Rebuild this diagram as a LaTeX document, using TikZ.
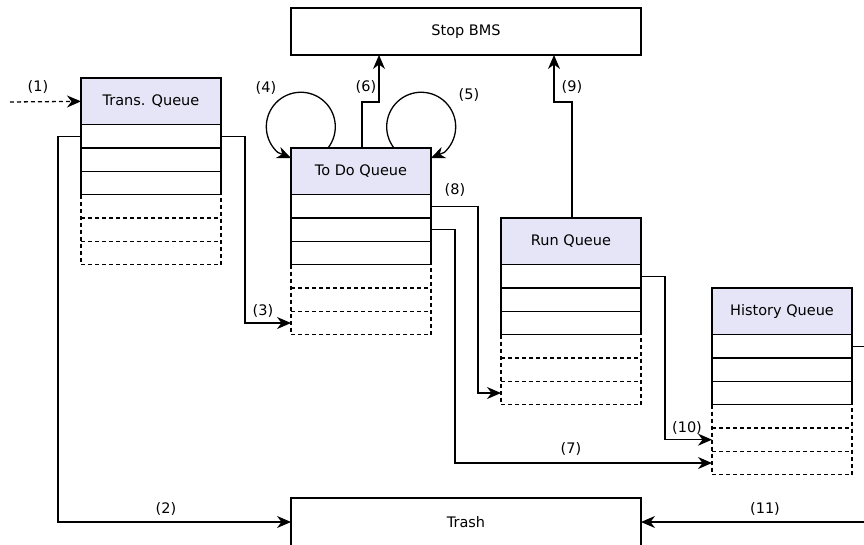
\documentclass[tikz,border=0pt]{standalone}
\usepackage{fontspec}
\setmainfont{DejaVu Sans}
\usetikzlibrary{arrows.meta}
\definecolor{headfill}{RGB}{229,229,247}
\tikzset{
  thin line/.style={line width=1.3pt},
  conn/.style={thin line, -{Stealth[length=14pt,width=12pt,inset=4.5pt]}},
  lab/.style={font=\fontsize{14.5}{16}\selectfont, inner sep=0pt},
  head/.style={draw, thin line, fill=headfill, minimum width=140pt, minimum height=46.7pt,
    inner sep=0pt, outer sep=0pt, anchor=north west, font=\fontsize{14.5}{16}\selectfont},
  slot/.style={draw, thin line, minimum width=140pt, minimum height=23.33pt,
    inner sep=0pt, outer sep=0pt, anchor=north west},
  freeslot/.style={minimum width=140pt, minimum height=23.33pt,
    inner sep=0pt, outer sep=0pt, anchor=north west},
  freeline/.style={thin line, dash pattern=on 4pt off 3pt},
  bigbox/.style={draw, thin line, minimum width=350pt, inner sep=0pt, outer sep=0pt,
    anchor=north west, font=\fontsize{14.5}{16}\selectfont},
}
% a queue: coloured header, three used slots, three free (dashed) slots
\newcommand\drawqueue[4]{%
  \node[head] (#1) at (#2,#3) {#4};
  \node[slot] (#1-1) at (#1.south west) {};
  \node[slot] (#1-2) at (#1-1.south west) {};
  \node[slot] (#1-3) at (#1-2.south west) {};
  \node[freeslot] (#1-4) at (#1-3.south west) {};
  \node[freeslot] (#1-5) at (#1-4.south west) {};
  \node[freeslot] (#1-6) at (#1-5.south west) {};
  \draw[freeline] (#1-3.south west) -- (#1-6.south west) -- (#1-6.south east) -- (#1-3.south east);
  \draw[freeline] (#1-4.south west) -- (#1-4.south east);
  \draw[freeline] (#1-5.south west) -- (#1-5.south east);
}
\begin{document}
\begin{tikzpicture}[x=1pt,y=-1pt]
\useasboundingbox (0,0) rectangle (864,545);

\node[bigbox, minimum height=47pt] (stop) at (291,8) {Stop BMS};
\node[bigbox, minimum height=48pt] (trash) at (291,498) {Trash};

\drawqueue{trans}{81}{78}{Trans. Queue}
\drawqueue{todo}{291}{148}{To Do Queue}
\drawqueue{run}{501}{218}{Run Queue}
\drawqueue{hist}{712}{288}{History Queue}

% (1) incoming transactions
\coordinate (in) at (10,102);
\draw[conn, dash pattern=on 4pt off 3pt] (in) -- (trans.west);
\node[lab] (l1) at (38,87) {(1)};

% (2) discarded transactions
\draw[conn] (trans-1.west) -- ++(-23,0) |- (trash.west);
\node[lab] (l2) at (166,509) {(2)};

% (3) accepted transactions
\draw[conn] (trans-1.east) -- ++(24,0) |- (todo-6.west);
\node[lab] (l3) at (263,311) {(3)};

% (4) and (5) self loops on the to-do queue
\draw[conn, y=1pt] ([xshift=37pt]todo.north west) arc[start angle=-38, end angle=228, radius=34.5]
  -- ([yshift=-10pt]todo.north west);
\node[lab] (l4) at (266,88) {(4)};
\draw[conn, y=1pt] ([xshift=-37pt]todo.north east) arc[start angle=218, end angle=-48, radius=34.5]
  -- ([yshift=-10pt]todo.north east);
\node[lab] (l5) at (469,95) {(5)};

% (6) and (9) to Stop BMS
\draw[conn] ([xshift=71pt]todo.north west) -- ++(0,-46) -| ([xshift=88pt]stop.south west);
\node[lab] (l6) at (366,87) {(6)};
\draw[conn] ([xshift=71pt]run.north west) -- ++(0,-116) -| ([xshift=263pt]stop.south west);
\node[lab] (l9) at (572,87) {(9)};

% (8) to the run queue
\draw[conn] (todo-1.east) -- ++(47,0) |- (run-6.west);
\node[lab] (l8) at (455,190) {(8)};

% (7) straight to history
\draw[conn] (todo-2.east) -- ++(24,0) |- (hist-6.west);
\node[lab] (l7) at (571,449) {(7)};

% (10) finished runs
\draw[conn] (run-1.east) -- ++(24,0) |- (hist-5.west);
\node[lab] (l10) at (687,428) {(10)};

% (11) history cleanup
\draw[conn] (hist-1.east) -- ++(24,0) |- (trash.east);
\node[lab] (l11) at (765,509) {(11)};
\end{tikzpicture}
\end{document}
